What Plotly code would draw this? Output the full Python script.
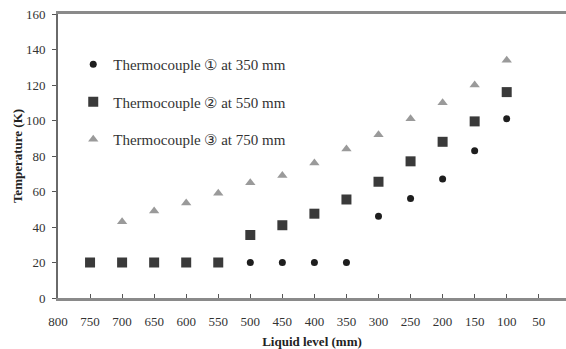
import plotly.graph_objects as go

levels_tc1 = [500, 450, 400, 350, 300, 250, 200, 150, 100]
temps_tc1 = [20, 20, 20, 20, 46, 56, 67, 83, 101]

levels_tc2 = [750, 700, 650, 600, 550, 500, 450, 400, 350, 300, 250, 200, 150, 100]
temps_tc2 = [20, 20, 20, 20, 20, 35.5, 41, 47.5, 55.5, 65.5, 77, 88, 99.5, 116]

levels_tc3 = [700, 650, 600, 550, 500, 450, 400, 350, 300, 250, 200, 150, 100]
temps_tc3 = [43, 49, 53.5, 59, 65, 69, 76, 84, 92, 101, 110, 120, 134]

names = ["Thermocouple \u2460 at 350 mm", "Thermocouple \u2461 at 550 mm", "Thermocouple \u2462 at 750 mm"]

font = "Liberation Serif, Times New Roman, serif"

fig = go.Figure()
fig.add_trace(go.Scatter(x=levels_tc1, y=temps_tc1, mode="markers", name=names[0],
                         legendgroup="a",
                         marker=dict(symbol="circle", size=7, color="#1e1e1e")))
fig.add_trace(go.Scatter(x=levels_tc2, y=temps_tc2, mode="markers", name=names[1],
                         legendgroup="b",
                         marker=dict(symbol="square", size=10, color="#3a3a3a")))
fig.add_trace(go.Scatter(x=levels_tc3, y=temps_tc3, mode="markers", name=names[2],
                         legendgroup="c",
                         marker=dict(symbol="triangle-up", size=9, color="#9a9a9a")))

fig.update_layout(
    width=566, height=349,
    margin=dict(l=58, r=0, t=14, b=51, autoexpand=False),
    paper_bgcolor="white", plot_bgcolor="white",
    font=dict(family=font, size=13, color="#333"),
    showlegend=True,
    legend=dict(x=0.03, y=0.69, xanchor="left", yanchor="middle",
                bgcolor="rgba(0,0,0,0)", tracegroupgap=15,
                font=dict(family=font, size=15, color="#333"),
                itemwidth=30),
    xaxis=dict(range=[800, 7.5], tickvals=list(range(800, -1, -50)),
               showgrid=False, zeroline=False, automargin=False,
               showline=True, linecolor="#8a8a8a", linewidth=3, mirror=True,
               ticks="inside", ticklen=4, tickcolor="#555", tickwidth=1,
               ticklabelstandoff=9,
               title=dict(text="<b>Liquid level (mm)</b>", standoff=15,
                          font=dict(family=font, size=13, color="#222"))),
    yaxis=dict(range=[0, 160], tickvals=list(range(0, 161, 20)),
               showgrid=False, zeroline=False, automargin=False,
               showline=True, linecolor="#6a6a6a", linewidth=2,
               ticks="outside", ticklen=4, tickcolor="#555", tickwidth=1,
               ticklabelstandoff=4,
               title=dict(text="<b>Temperature (K)</b>", standoff=0,
                          font=dict(family=font, size=13, color="#222"))),
)

fig.write_html("out.html")
